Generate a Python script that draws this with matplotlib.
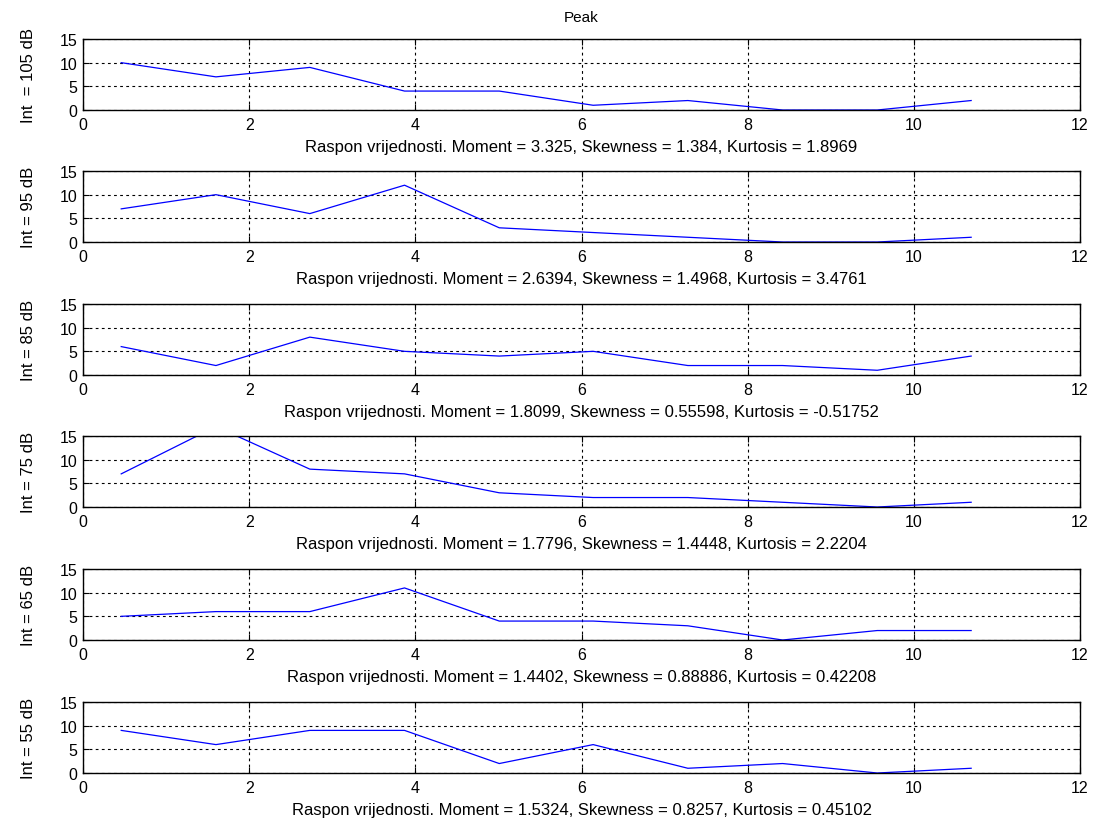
import matplotlib.pyplot as plt

# bin centres shared by all histograms
bins = [0.46, 1.60, 2.73, 3.87, 5.01, 6.14, 7.28, 8.42, 9.56, 10.69]

# counts per intensity level
int_labels = ["Int  = 105 dB", "Int = 95 dB", "Int = 85 dB",
              "Int = 75 dB", "Int = 65 dB", "Int = 55 dB"]
counts_105 = [10, 7, 9, 4, 4, 1, 2, 0, 0, 2]
counts_95 = [7, 10, 6, 12, 3, 2, 1, 0, 0, 1]
counts_85 = [6, 2, 8, 5, 4, 5, 2, 2, 1, 4]
counts_75 = [7, 17, 8, 7, 3, 2, 2, 1, 0, 1]
counts_65 = [5, 6, 6, 11, 4, 4, 3, 0, 2, 2]
counts_55 = [9, 6, 9, 9, 2, 6, 1, 2, 0, 1]

moments = ["3.325", "2.6394", "1.8099", "1.7796", "1.4402", "1.5324"]
skewness = ["1.384", "1.4968", "0.55598", "1.4448", "0.88886", "0.8257"]
kurtosis = ["1.8969", "3.4761", "-0.51752", "2.2204", "0.42208", "0.45102"]

all_counts = [counts_105, counts_95, counts_85, counts_75, counts_65, counts_55]

plt.rcParams["font.family"] = ["Liberation Sans", "DejaVu Sans"]
plt.rcParams["font.size"] = 10

fig = plt.figure(figsize=(10.93, 8.2), dpi=100)

left = 83 / 1093
width = (1080 - 83) / 1093
height = 71 / 820
tops = [40, 172, 305, 437, 570, 703]

for i in range(6):
    bottom = 1 - (tops[i] + 71) / 820
    ax = fig.add_axes([left, bottom, width, height])
    ax.plot(bins, all_counts[i], color="blue", linewidth=0.9)
    ax.set_xlim(0, 12)
    ax.set_ylim(0, 15)
    ax.set_xticks(range(0, 13, 2))
    ax.set_yticks([0, 5, 10, 15])
    ax.grid(True, color="black", linestyle=(0, (2.5, 3)), linewidth=0.8)
    ax.tick_params(direction="in", top=True, right=True, length=4,
                   labelsize=11.5, colors="black")
    ax.tick_params(axis="x", pad=5)
    ax.tick_params(axis="y", pad=4)
    for s in ax.spines.values():
        s.set_linewidth(1.0)
    ax.set_ylabel(int_labels[i], fontsize=12, labelpad=17)
    ax.set_xlabel("Raspon vrijednosti. Moment = " + moments[i]
                  + ", Skewness = " + skewness[i]
                  + ", Kurtosis = " + kurtosis[i], fontsize=12, labelpad=5)
    if i == 0:
        ax.set_title("Peak", fontsize=11, pad=13)

fig.savefig("out.png", dpi=100)
